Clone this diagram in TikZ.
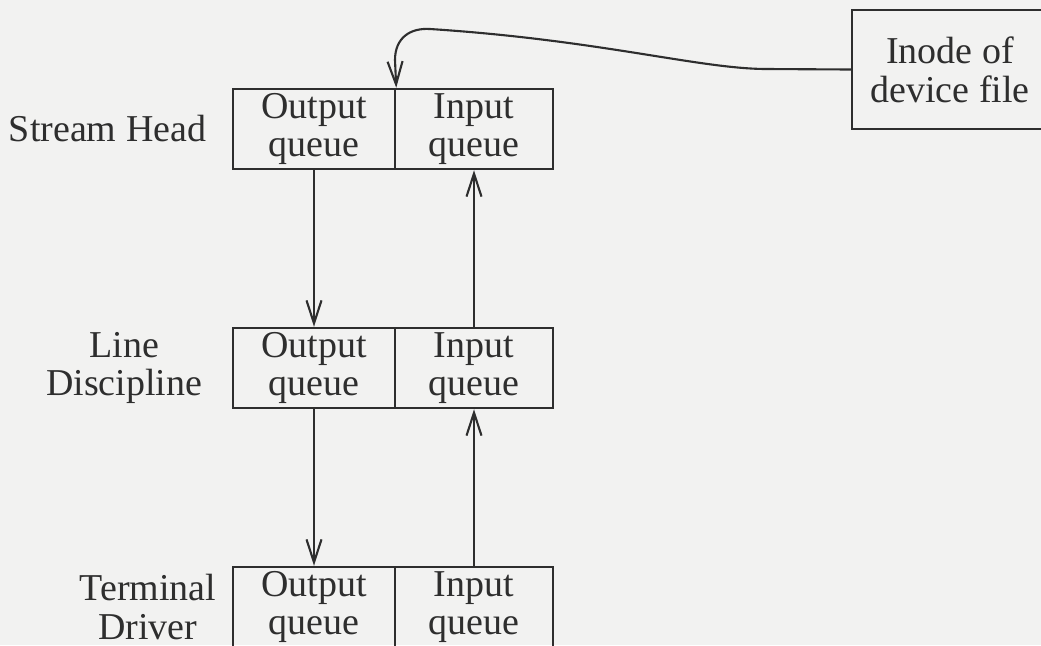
\documentclass[tikz,border=0pt]{standalone}
\usepackage{fontspec}
\setmainfont{Liberation Serif}
\usepackage{xcolor}
\usetikzlibrary{arrows.meta,positioning}
\definecolor{paper}{HTML}{F2F2F1}
\definecolor{ink}{HTML}{2E2E2E}
\tikzset{
  >={Straight Barb[length=2.3mm,width=1.5mm]},
  queuecell/.style={draw=ink,line width=.7pt,align=center,inner sep=0pt,
    minimum height=8mm,font=\fontsize{10.8}{11}\selectfont,text=ink},
  outcell/.style={queuecell,minimum width=16.2mm},
  incell/.style={queuecell,minimum width=15.8mm},
  layerlabel/.style={align=center,inner sep=0pt,anchor=east,
    font=\fontsize{10.8}{11}\selectfont,text=ink},
  flow/.style={->,line width=.6pt,color=ink},
}

\begin{document}
\begin{tikzpicture}[x=.1mm,y=-.1mm]
  \fill[paper] (0,0) rectangle (1041,645);
  \useasboundingbox (0,0) rectangle (1041,645);

  % the three layers of the stream
  \node[outcell] (sh-out) at (314,129) {Output\\queue};
  \node[incell]  (sh-in)  at (474,129) {Input\\queue};
  \node[outcell] (ld-out) at (314,368) {Output\\queue};
  \node[incell]  (ld-in)  at (474,368) {Input\\queue};
  \node[outcell] (td-out) at (314,607) {Output\\queue};
  \node[incell]  (td-in)  at (474,607) {Input\\queue};

  \node[layerlabel] (sh-label) at ([xshift=-2.5mm]sh-out.west) {Stream Head};
  \node[layerlabel] (ld-label) at ([xshift=-2.9mm]ld-out.west) {Line\\Discipline};
  \node[layerlabel] (td-label) at ([xshift=-1.5mm]td-out.west) {Terminal\\Driver};

  \node[queuecell,minimum width=19.6mm,minimum height=11.9mm] (inode) at (950,69.5)
    {Inode of\\device file};

  % messages down and up
  \draw[flow] (sh-out.south) -- (ld-out.north);
  \draw[flow] (ld-out.south) -- (td-out.north);
  \draw[flow] (td-in.north) -- (ld-in.south);
  \draw[flow] (ld-in.north) -- (sh-in.south);

  \draw[flow] (inode.west) -- (767,69)
    .. controls (700,69) and (600,40) .. (430,29)
    .. controls (410,27.7) and (395,38) .. (395,60) -- (sh-out.north east);
\end{tikzpicture}
\end{document}
